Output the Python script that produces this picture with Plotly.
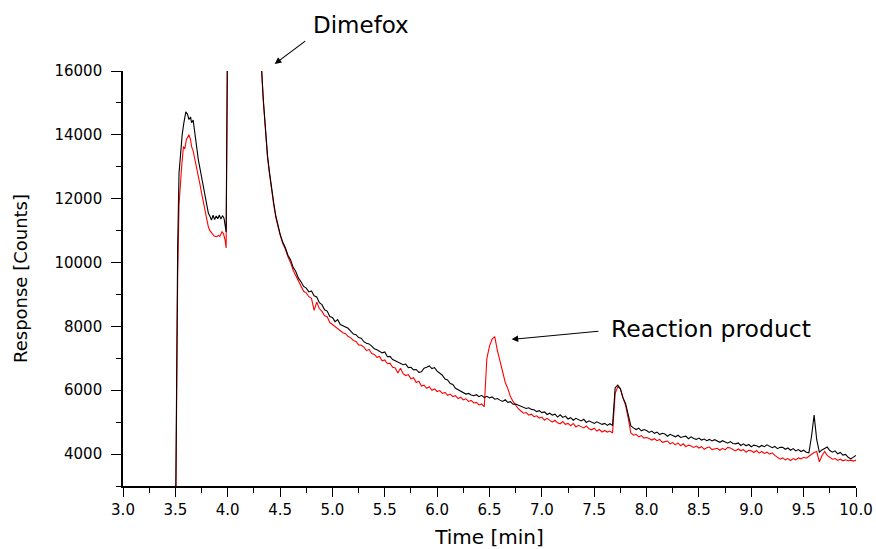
import numpy as np
import plotly.graph_objects as go

# ---- Chromatogram data (time in min, response in counts) ----
# Early part: solvent front and the saturated Dimefox peak
head_time_black = [3.500, 3.522, 3.535, 3.550, 3.565, 3.580, 3.600, 3.615, 3.630, 3.645,
                   3.655, 3.670, 3.685, 3.700, 3.720, 3.735, 3.750, 3.770, 3.785, 3.800,
                   3.815, 3.830, 3.845, 3.860, 3.875, 3.890, 3.905, 3.920, 3.935, 3.950,
                   3.965, 3.985, 4.000, 4.150, 4.300, 4.320, 4.340, 4.360, 4.380, 4.400,
                   4.420, 4.440, 4.460, 4.480]
head_black = [1000, 10500, 12800, 13500, 14000, 14350, 14720, 14650, 14480, 14560,
              14380, 14460, 14050, 13700, 13210, 12950, 12690, 12420, 12180, 11900,
              11550, 11450, 11330, 11480, 11350, 11460, 11370, 11490, 11360, 11470,
              11380, 10960, 30000, 90000, 19500, 16300, 15100, 14150, 13350, 12800,
              12250, 11850, 11450, 11150]

head_time_red = [3.500, 3.522, 3.535, 3.545, 3.560, 3.577, 3.590, 3.605, 3.630, 3.645,
                 3.655, 3.670, 3.690, 3.705, 3.720, 3.735, 3.750, 3.770, 3.785, 3.800,
                 3.815, 3.830, 3.850, 3.870, 3.895, 3.910, 3.925, 3.945, 3.960, 3.975,
                 3.985, 4.005, 4.150, 4.300, 4.320, 4.340, 4.360, 4.380, 4.400, 4.420,
                 4.440, 4.460, 4.480]
head_red = [800, 9500, 11800, 12375, 13000, 13630, 13560, 13850, 14000, 13850,
            13630, 13500, 13210, 12950, 12690, 12450, 12180, 11850, 11550, 11300,
            11120, 11000, 10915, 10830, 10810, 10850, 10820, 10965, 10900, 10700,
            10455, 30000, 90000, 19300, 16200, 15050, 14100, 13300, 12750, 12200,
            11800, 11400, 11100]

# Tail: sampled every 0.025 min from 4.5 to 10.0 (4 samples per row = 0.1 min)
tail_black = [
    10900, 10640, 10470, 10230,   # 4.5
    10090, 9850, 9720, 9510,      # 4.6
    9400, 9250, 9200, 9080,       # 4.7
    9110, 8960, 8920, 8740,       # 4.8
    8680, 8520, 8480, 8310,       # 4.9
    8280, 8150, 8210, 8060,       # 5.0
    8020, 7960, 7940, 7850,       # 5.1
    7760, 7740, 7650, 7630,       # 5.2
    7520, 7470, 7450, 7380,       # 5.3
    7300, 7270, 7210, 7170,       # 5.4
    7200, 7050, 7060, 6960,       # 5.5
    6920, 6880, 6840, 6800,       # 5.6
    6820, 6710, 6720, 6640,       # 5.7
    6650, 6560, 6580, 6690,       # 5.8
    6720, 6760, 6680, 6710,       # 5.9
    6600, 6540, 6470, 6350,       # 6.0
    6320, 6210, 6180, 6060,       # 6.1
    6020, 5960, 5930, 5880,       # 6.2
    5900, 5850, 5830, 5860,       # 6.3
    5800, 5840, 5770, 5810,       # 6.4
    5760, 5790, 5720, 5740,       # 6.5
    5690, 5650, 5700, 5620,       # 6.6
    5640, 5560, 5570, 5540,       # 6.7
    5500, 5480, 5430, 5450,       # 6.8
    5400, 5390, 5330, 5360,       # 6.9
    5300, 5320, 5240, 5280,       # 7.0
    5220, 5250, 5160, 5230,       # 7.1
    5150, 5190, 5100, 5140,       # 7.2
    5060, 5120, 5070, 5040,       # 7.3
    5090, 4990, 5040, 5010,       # 7.4
    4960, 5010, 4970, 4930,       # 7.5
    4960, 4900, 4950, 4900,       # 7.6
    6080, 6160, 6040, 5760,       # 7.7
    5580, 5200, 4880, 4820,       # 7.8
    4770, 4810, 4730, 4770,       # 7.9
    4740, 4680, 4720, 4650,       # 8.0
    4690, 4610, 4650, 4630,       # 8.1
    4560, 4620, 4580, 4540,       # 8.2
    4590, 4520, 4540, 4560,       # 8.3
    4480, 4540, 4490, 4460,       # 8.4
    4500, 4440, 4470, 4420,       # 8.5
    4460, 4410, 4450, 4400,       # 8.6
    4370, 4420, 4380, 4340,       # 8.7
    4390, 4330, 4320, 4350,       # 8.8
    4270, 4320, 4260, 4300,       # 8.9
    4230, 4280, 4260, 4220,       # 9.0
    4270, 4230, 4290, 4240,       # 9.1
    4200, 4240, 4170, 4210,       # 9.2
    4210, 4150, 4190, 4120,       # 9.3
    4170, 4100, 4140, 4080,       # 9.4
    4120, 4060, 4040, 4550,       # 9.5
    5220, 4450, 4060, 4130,       # 9.6
    4180, 4220, 4110, 4060,       # 9.7
    4100, 4010, 4050, 3970,       # 9.8
    3990, 3900, 3850, 3900,       # 9.9
    3960,                         # 10.0
]

tail_red = [
    10870, 10600, 10420, 10180,   # 4.5
    10000, 9760, 9600, 9400,      # 4.6
    9260, 9100, 9050, 8930,       # 4.7
    8880, 8500, 8760, 8560,       # 4.8
    8470, 8330, 8300, 8120,       # 4.9
    8060, 7990, 7940, 7880,       # 5.0
    7800, 7770, 7680, 7640,       # 5.1
    7560, 7530, 7420, 7410,       # 5.2
    7350, 7240, 7280, 7150,       # 5.3
    7120, 7030, 7060, 6920,       # 5.4
    6950, 6830, 6850, 6720,       # 5.5
    6700, 6540, 6690, 6520,       # 5.6
    6460, 6490, 6360, 6390,       # 5.7
    6240, 6280, 6130, 6160,       # 5.8
    6060, 6110, 6000, 6040,       # 5.9
    5960, 5990, 5900, 5930,       # 6.0
    5840, 5880, 5800, 5830,       # 6.1
    5740, 5780, 5700, 5730,       # 6.2
    5650, 5680, 5600, 5620,       # 6.3
    5540, 5570, 5480, 7000,       # 6.4
    7380, 7600, 7680, 7250,       # 6.5
    6900, 6500, 6250, 6050,       # 6.6
    5800, 5650, 5520, 5420,       # 6.7
    5350, 5280, 5300, 5220,       # 6.8
    5250, 5170, 5200, 5130,       # 6.9
    5160, 5060, 5120, 5070,       # 7.0
    5000, 5060, 4980, 4950,       # 7.1
    5020, 4930, 4960, 4890,       # 7.2
    4960, 4850, 4900, 4860,       # 7.3
    4820, 4880, 4790, 4760,       # 7.4
    4810, 4720, 4770, 4690,       # 7.5
    4740, 4690, 4720, 4660,       # 7.6
    5900, 6110, 6060, 5760,       # 7.7
    5520, 5120, 4660, 4590,       # 7.8
    4620, 4540, 4580, 4500,       # 7.9
    4520, 4490, 4440, 4480,       # 8.0
    4420, 4460, 4370, 4390,       # 8.1
    4410, 4320, 4360, 4290,       # 8.2
    4350, 4260, 4320, 4230,       # 8.3
    4280, 4250, 4210, 4250,       # 8.4
    4190, 4230, 4150, 4200,       # 8.5
    4220, 4140, 4170, 4180,       # 8.6
    4120, 4180, 4130, 4210,       # 8.7
    4190, 4150, 4100, 4160,       # 8.8
    4110, 4140, 4060, 4120,       # 8.9
    4100, 4050, 4110, 4030,       # 9.0
    4080, 4020, 4060, 4000,       # 9.1
    4040, 3960, 3900, 3840,       # 9.2
    3880, 3820, 3860, 3800,       # 9.3
    3860, 3820, 3880, 3850,       # 9.4
    3900, 3870, 3930, 3990,       # 9.5
    4050, 4080, 3760, 3950,       # 9.6
    4080, 3960, 3890, 3840,       # 9.7
    3860, 3800, 3840, 3790,       # 9.8
    3820, 3790, 3810, 3780,       # 9.9
    3810,                         # 10.0
]

tail_time = np.round(4.5 + 0.025 * np.arange(len(tail_black)), 3)

time_black = list(head_time_black) + list(tail_time)
resp_black = head_black + tail_black
time_red = list(head_time_red) + list(np.round(4.5 + 0.025 * np.arange(len(tail_red)), 3))
resp_red = head_red + tail_red

x_ticks = [3.0, 3.5, 4.0, 4.5, 5.0, 5.5, 6.0, 6.5, 7.0, 7.5, 8.0, 8.5, 9.0, 9.5, 10.0]
y_ticks = [4000, 6000, 8000, 10000, 12000, 14000, 16000]

FONT = "DejaVu Sans, Verdana, sans-serif"

fig = go.Figure()
fig.add_trace(go.Scatter(x=time_red, y=resp_red, mode="lines",
                         line=dict(color="#ff0000", width=1.1), showlegend=False))
fig.add_trace(go.Scatter(x=time_black, y=resp_black, mode="lines",
                         line=dict(color="#000000", width=1.1), showlegend=False))

# Peak labels with arrows (Dimefox sits above the plot area, so use paper y)
fig.add_annotation(x=4.449, y=1.017, xref="x", yref="paper",
                   ax=32, ay=-24, axref="pixel", ayref="pixel", text="",
                   showarrow=True, arrowhead=2, arrowsize=1.2, arrowwidth=1.1,
                   arrowcolor="black")
fig.add_annotation(x=4.796, y=1.111, xref="x", yref="paper", text="Dimefox",
                   showarrow=False, xanchor="left", yanchor="middle",
                   font=dict(family=FONT, size=23, color="black"))
fig.add_annotation(x=6.711, y=7594, ax=7.554, ay=7854, xref="x", yref="y",
                   axref="x", ayref="y", text="", showarrow=True,
                   arrowhead=2, arrowsize=1.2, arrowwidth=1.1, arrowcolor="black")
fig.add_annotation(x=7.645, y=7917, xref="x", yref="y", text="Reaction product",
                   showarrow=False, xanchor="left", yanchor="middle",
                   font=dict(family=FONT, size=23.5, color="black"))

fig.update_layout(
    width=876, height=549,
    margin=dict(l=123, r=20, t=71, b=63),
    paper_bgcolor="white", plot_bgcolor="white",
    font=dict(family=FONT, size=15, color="black"),
)
fig.update_xaxes(
    range=[3.0, 10.0], tickvals=x_ticks, ticktext=[f"{v:.1f}" for v in x_ticks],
    showgrid=False, zeroline=False, showline=True, linecolor="black", linewidth=1.6,
    ticks="outside", ticklen=9, tickwidth=1.4, tickcolor="black", automargin=False,
    minor=dict(dtick=0.25, tick0=3.0, ticks="outside", ticklen=5, tickwidth=1.2,
               tickcolor="black", showgrid=False),
    tickfont=dict(family=FONT, size=15),
    title=dict(text="Time [min]", font=dict(family=FONT, size=20), standoff=15),
)
fig.update_yaxes(
    range=[3000, 16000], tickvals=y_ticks, ticktext=[str(v) for v in y_ticks],
    showgrid=False, zeroline=False, showline=True, linecolor="black", linewidth=1.6,
    ticks="outside", ticklen=10, tickwidth=1.4, tickcolor="black", automargin=False,
    minor=dict(dtick=1000, tick0=3000, ticks="outside", ticklen=5, tickwidth=1.2,
               tickcolor="black", showgrid=False),
    tickfont=dict(family=FONT, size=15), ticklabelstandoff=6,
    title=dict(text="Response [Counts]", font=dict(family=FONT, size=18), standoff=22),
)

fig.write_html("out.html")
